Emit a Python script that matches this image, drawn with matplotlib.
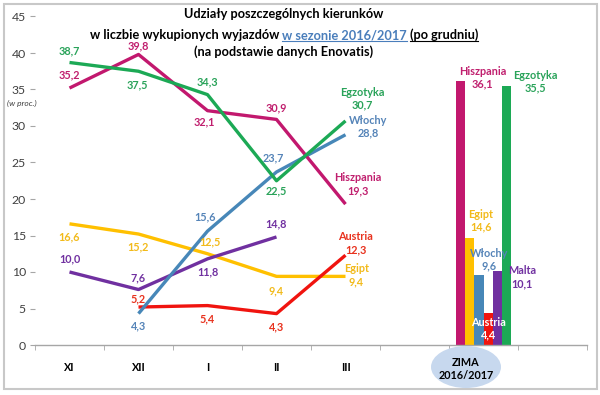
import matplotlib
matplotlib.use('Agg')
import matplotlib.pyplot as plt
import numpy as np
from matplotlib.patches import Ellipse, Rectangle
from matplotlib.lines import Line2D

plt.rcParams['font.family'] = ['Lato', 'DejaVu Sans']

# ---------------- data ----------------
months = ['XI', 'XII', 'I', 'II', 'III']
hiszpania = [35.2, 39.8, 32.1, 30.9, 19.3]
egzotyka = [38.7, 37.5, 34.3, 22.5, 30.7]
wlochy = [None, 4.3, 15.6, 23.7, 28.8]
egipt = [16.6, 15.2, 12.5, 9.4, 9.4]
malta = [10.0, 7.6, 11.8, 14.8, None]
austria = [None, 5.2, 5.4, 4.3, 12.3]

winter_label = 'ZIMA\n2016/2017'
winter_names = ['Hiszpania', 'Egipt', 'Włochy', 'Austria', 'Malta', 'Egzotyka']
winter_values = [36.1, 14.6, 9.6, 4.4, 10.1, 35.5]

yticks = [0, 5, 10, 15, 20, 25, 30, 35, 40, 45]

# ---------------- style ----------------
line_col = {'Hiszpania': '#C2186E', 'Egzotyka': '#1CA955', 'Włochy': '#4787B8',
            'Egipt': '#FFC000', 'Malta': '#7030A0', 'Austria': '#F0140F'}
text_col = {'Hiszpania': '#C01F6E', 'Egzotyka': '#2AA35A', 'Włochy': '#5584B8',
            'Egipt': '#F2BA1A', 'Malta': '#7030A0', 'Austria': '#E8321E'}

series = [('Egipt', egipt), ('Malta', malta), ('Austria', austria),
          ('Włochy', wlochy), ('Hiszpania', hiszpania), ('Egzotyka', egzotyka)]

# label offsets in pixels (dx, dy) per point index
offsets = {
    'Hiszpania': [(0, 13), (0, 9), (-3, -11), (0, 12), None],
    'Egzotyka': [(0, 12), (-1, -14), (0, 13), (0, -10), None],
    'Włochy': [None, (0, -12), (-2, 14), (-3, 14), None],
    'Egipt': [(0, -13), (0, -13), (3, 12), (0, -14), None],
    'Malta': [(0, 13), (0, 12), (0, -13), (0, 13), None],
    'Austria': [None, (0, 8), (0, -13), (0, -13), None],
}
# end labels (name + value) offset of the two-line block centre
end_off = {'Hiszpania': (12, 20), 'Egzotyka': (17, 22), 'Włochy': (23, 8),
           'Egipt': (11, 1), 'Austria': (10, 12)}
bar_off = {'Hiszpania': (22, 4), 'Egzotyka': (29, 4), 'Egipt': (11, 18),
           'Włochy': (10, 15), 'Malta': (25, -6), 'Austria': (0, -16)}

LS = 7.8  # label font size

W, H = 600, 395
fig = plt.figure(figsize=(6, 3.95), dpi=100)
ax = fig.add_axes([35 / W, 1 - 345 / H, 552 / W, 328.5 / H])
ax.set_xlim(-0.5, 7.5)
ax.set_ylim(0, 45)


def fmt(v):
    return f'{v:.1f}'.replace('.', ',')


x = np.arange(len(months))
for name, vals in series:
    y = np.array([np.nan if v is None else v for v in vals])
    ax.plot(x, y, color=line_col[name], lw=2.4, solid_capstyle='butt', zorder=3)
    for i, v in enumerate(vals):
        if v is None:
            continue
        off = offsets[name][i]
        if off is not None:
            ax.annotate(fmt(v), (i, v), xytext=off, textcoords='offset pixels',
                        ha='center', va='center', color=text_col[name],
                        fontsize=LS, fontweight='bold', zorder=5)
    # end label
    last = max(i for i, v in enumerate(vals) if v is not None)
    if name in end_off:
        ax.annotate(name + '\n' + fmt(vals[last]), (last, vals[last]),
                    xytext=end_off[name], textcoords='offset pixels',
                    ha='center', va='center', color=text_col[name],
                    fontsize=LS, fontweight='bold', linespacing=1.2, zorder=5)

# bars
bw = 9.2 / 69
bx = 6 + (np.arange(len(winter_values)) - 2.5) * bw
ax.bar(bx, winter_values, width=bw, color=[line_col[n] for n in winter_names],
       zorder=2)
for xi, v, n in zip(bx, winter_values, winter_names):
    c = 'white' if n == 'Austria' else text_col[n]
    ax.annotate(n + '\n' + fmt(v), (xi, v), xytext=bar_off[n],
                textcoords='offset pixels', ha='center', va='center', color=c,
                fontsize=LS, fontweight='bold', linespacing=1.2, zorder=6)

# axes styling
for s in ['top', 'right', 'left']:
    ax.spines[s].set_visible(False)
ax.spines['bottom'].set_color('#A6A6A6')
ax.spines['bottom'].set_linewidth(1)
ax.set_yticks(yticks)
ax.set_yticklabels([str(t) for t in yticks])
ax.tick_params(axis='y', length=3.5, color='#A6A6A6', labelcolor='#404040',
               labelsize=8.8, pad=3)
ax.set_xticks(x)
ax.set_xticklabels(months, fontweight='bold', fontsize=7.8)
ax.set_xticks(np.arange(-0.5, 8, 1), minor=True)
ax.tick_params(axis='x', which='major', length=0, pad=12)
ax.tick_params(axis='x', which='minor', length=3.5, color='#A6A6A6')

# winter category label with ellipse
fig.add_artist(Ellipse((466 / W, 1 - 367 / H), 70 / W, 42 / H,
                       transform=fig.transFigure, facecolor='#C7D8EE',
                       edgecolor='none', zorder=1))
fig.text(466 / W, 1 - 369 / H, winter_label, ha='center', va='center',
         fontsize=7.8, fontweight='bold', linespacing=1.3, zorder=2)

fig.text(22 / W, 1 - 103 / H, '(w proc.)', ha='center', va='center',
         fontsize=6, style='italic', color='#404040')

# border
fig.add_artist(Rectangle((4 / W, 1 - 389 / H), 593 / W, 385 / H,
                         transform=fig.transFigure, fill=False,
                         edgecolor='#C8C8C8', lw=1.5, zorder=0))

# title
tsize = 9.2
cx = 284
fig.text(cx / W, 1 - 14 / H, 'Udziały poszczególnych kierunków', ha='center',
         va='center', fontsize=tsize, fontweight='bold')
fig.text(cx / W, 1 - 52 / H, '(na podstawie danych Enovatis)', ha='center',
         va='center', fontsize=tsize, fontweight='bold')

segs = [('w liczbie wykupionych wyjazdów ', 'black', False),
        ('w sezonie 2016/2017', '#4A7EBB', True),
        (' ', 'black', False),
        ('(po grudniu)', 'black', True)]
full = ''.join(s[0] for s in segs)
renderer = fig.canvas.get_renderer()


def width(s):
    t = fig.text(0, 0, s, fontsize=tsize, fontweight='bold')
    w = t.get_window_extent(renderer).width
    t.remove()
    return w


bar_w = width('|')
total = width(full + '|') - bar_w
x0 = cx - total / 2
base_y = 39
prefix = ''
for s, c, ul in segs:
    start = x0 + (width(prefix + '|') - bar_w if prefix else 0)
    if s.strip():
        fig.text(start / W, 1 - base_y / H, s, ha='left', va='baseline',
                 fontsize=tsize, fontweight='bold', color=c)
        if ul:
            sw = width(s)
            fig.add_artist(Line2D([start / W, (start + sw) / W],
                                  [1 - (base_y + 2) / H, 1 - (base_y + 2) / H],
                                  transform=fig.transFigure, color=c, lw=0.8))
    prefix += s

fig.savefig('out.png', dpi=100)
